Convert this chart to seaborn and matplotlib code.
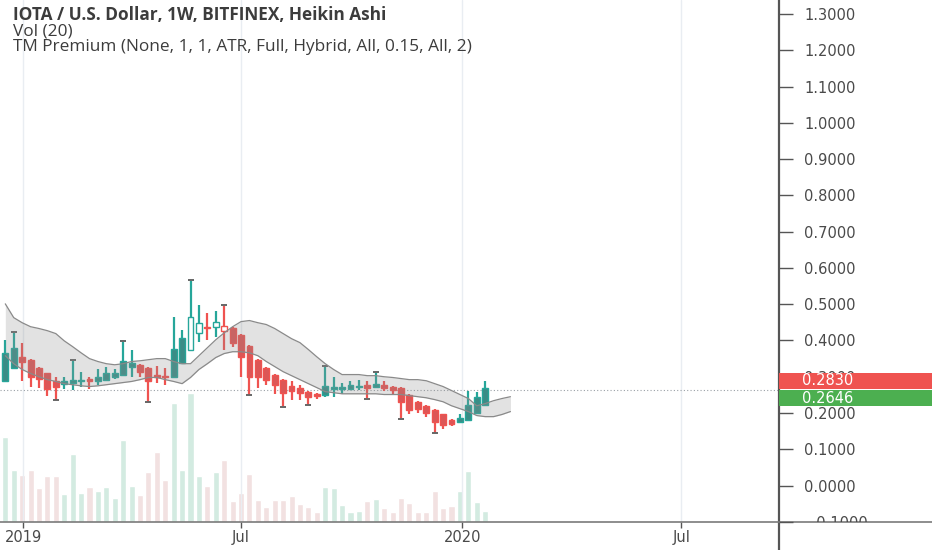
import numpy as np
import pandas as pd
import matplotlib
matplotlib.use("Agg")
import matplotlib.pyplot as plt
import seaborn as sns
from matplotlib.patches import Rectangle
from matplotlib.lines import Line2D
import matplotlib.transforms as mtrans

# ---------------- data ----------------
first_week = pd.Timestamp("2018-12-17")

ha_open = [0.287, 0.325, 0.355, 0.347, 0.325, 0.309, 0.287, 0.281, 0.284, 0.287,
           0.295, 0.287, 0.292, 0.298, 0.306, 0.328, 0.333, 0.325, 0.306, 0.303,
           0.300, 0.339, 0.375, 0.421, 0.438, 0.438, 0.441, 0.435, 0.416, 0.386,
           0.347, 0.325, 0.306, 0.292, 0.275, 0.270, 0.259, 0.253, 0.251, 0.267,
           0.267, 0.267, 0.273, 0.278, 0.273, 0.278, 0.273, 0.270, 0.251, 0.231,
           0.220, 0.209, 0.196, 0.182, 0.176, 0.182, 0.201, 0.223]
ha_high = [0.402, 0.421, 0.394, 0.350, 0.328, 0.311, 0.298, 0.298, 0.344, 0.314,
           0.300, 0.320, 0.328, 0.320, 0.397, 0.375, 0.335, 0.327, 0.331, 0.325,
           0.466, 0.430, 0.565, 0.499, 0.477, 0.482, 0.496, 0.437, 0.418, 0.388,
           0.349, 0.327, 0.308, 0.294, 0.287, 0.278, 0.261, 0.255, 0.328, 0.298,
           0.284, 0.287, 0.292, 0.287, 0.311, 0.287, 0.275, 0.272, 0.253, 0.233,
           0.222, 0.211, 0.198, 0.184, 0.198, 0.262, 0.259, 0.289]
ha_low = [0.285, 0.323, 0.287, 0.273, 0.270, 0.248, 0.237, 0.267, 0.264, 0.273,
          0.267, 0.278, 0.287, 0.295, 0.303, 0.300, 0.300, 0.231, 0.284, 0.278,
          0.298, 0.337, 0.373, 0.397, 0.402, 0.410, 0.375, 0.383, 0.300, 0.251,
          0.270, 0.278, 0.253, 0.218, 0.237, 0.237, 0.223, 0.240, 0.245, 0.245,
          0.253, 0.265, 0.264, 0.242, 0.271, 0.262, 0.253, 0.185, 0.196, 0.201,
          0.190, 0.146, 0.157, 0.163, 0.174, 0.180, 0.199, 0.221]
ha_close = [0.366, 0.380, 0.342, 0.300, 0.295, 0.267, 0.273, 0.287, 0.292, 0.292,
            0.289, 0.300, 0.309, 0.311, 0.344, 0.339, 0.314, 0.287, 0.300, 0.298,
            0.377, 0.408, 0.466, 0.449, 0.435, 0.452, 0.427, 0.394, 0.355, 0.300,
            0.300, 0.292, 0.278, 0.256, 0.262, 0.256, 0.245, 0.248, 0.275, 0.273,
            0.273, 0.278, 0.275, 0.270, 0.281, 0.270, 0.264, 0.229, 0.209, 0.212,
            0.201, 0.176, 0.168, 0.171, 0.187, 0.223, 0.245, 0.270]
volume = [8.5, 5.2, 4.7, 5.2, 3.4, 4.6, 4.6, 2.8, 6.8, 2.9,
          3.5, 3.1, 3.5, 2.4, 8.2, 3.6, 2.7, 5.0, 7.0, 4.2,
          11.9, 5.2, 12.9, 4.6, 3.6, 5.0, 6.2, 2.1, 2.9, 4.8,
          2.2, 1.5, 2.2, 2.2, 2.6, 1.8, 1.5, 1.0, 3.5, 3.4,
          1.7, 1.0, 1.1, 2.1, 2.3, 1.4, 1.0, 2.4, 1.9, 1.0,
          1.0, 3.1, 1.4, 1.6, 3.1, 5.1, 2.0, 1.1]
band_upper = [0.501, 0.463, 0.449, 0.438, 0.433, 0.427, 0.419, 0.399, 0.383, 0.366,
              0.350, 0.342, 0.336, 0.333, 0.336, 0.342, 0.344, 0.347, 0.350, 0.350,
              0.342, 0.336, 0.336, 0.358, 0.380, 0.402, 0.421, 0.438, 0.452, 0.455,
              0.449, 0.444, 0.433, 0.419, 0.405, 0.394, 0.375, 0.355, 0.336, 0.320,
              0.306, 0.306, 0.306, 0.303, 0.303, 0.300, 0.298, 0.295, 0.292, 0.292,
              0.289, 0.281, 0.273, 0.262, 0.251, 0.240, 0.220, 0.226, 0.234, 0.240,
              0.245]
band_lower = [0.358, 0.336, 0.320, 0.309, 0.300, 0.292, 0.287, 0.281, 0.278, 0.275,
              0.273, 0.275, 0.278, 0.281, 0.284, 0.287, 0.292, 0.298, 0.298, 0.292,
              0.287, 0.281, 0.298, 0.320, 0.336, 0.353, 0.364, 0.369, 0.369, 0.366,
              0.358, 0.342, 0.328, 0.314, 0.303, 0.292, 0.281, 0.270, 0.259, 0.256,
              0.253, 0.253, 0.253, 0.253, 0.253, 0.251, 0.251, 0.251, 0.248, 0.245,
              0.242, 0.237, 0.231, 0.220, 0.212, 0.204, 0.193, 0.190, 0.190, 0.196,
              0.204]
hollow_bars = [22, 23, 25, 26]
high_marks = [1, 8, 14, 22, 26, 38, 44]
low_marks = [6, 17, 29, 33, 36, 43, 47, 51]

time_ticks = ["2019-01-01", "2019-07-01", "2020-01-01", "2020-07-01"]
time_labels = ["2019", "Jul", "2020", "Jul"]
price_ticks = [-0.1, 0.0, 0.1, 0.2, 0.3, 0.4, 0.5, 0.6, 0.7, 0.8, 0.9, 1.0, 1.1, 1.2, 1.3]
last_price = 0.2830
prev_close = 0.2646

title_lines = ["IOTA / U.S. Dollar, 1W, BITFINEX, Heikin Ashi",
               "Vol (20)",
               "TM Premium (None, 1, 1, ATR, Full, Hybrid, All, 0.15, All, 2)"]

# ---------------- styling ----------------
UP = "#26a69a"
DOWN = "#ef5350"
UP_BODY = "#3a8c86"
DOWN_BODY = "#dc5656"
TXT = "#4a4a4a"

sns.set_theme(style="white")
plt.rcParams["font.family"] = ["DejaVu Sans"]

W, H = 932, 550
fig = plt.figure(figsize=(W / 100, H / 100), dpi=100)
fig.patch.set_facecolor("white")
rect = [0, 28 / H, 779 / W, 522 / H]

xlim = (-0.63, 91.9)
ylim = (-0.1005, 1.3388)

# volume axes (behind)
axv = fig.add_axes(rect)
axv.set_zorder(0)
o = np.array(ha_open); hi = np.array(ha_high); lo = np.array(ha_low); c = np.array(ha_close)
idx = np.arange(len(o))
direction = np.where(c >= o, "up", "down")
vol_df = pd.DataFrame({"bar": idx, "volume": volume, "dir": direction})
sns.barplot(data=vol_df, x="bar", y="volume", hue="dir", native_scale=True,
            palette={"up": "#d3ebe1", "down": "#f2e1e1"}, saturation=1,
            width=0.72, dodge=False, legend=False, ax=axv)
axv.set_xlim(*xlim)
axv.set_ylim(0, 52.2)
axv.axis("off")

# price axes
ax = fig.add_axes(rect)
ax.set_zorder(2)
ax.patch.set_alpha(0)

# vertical grid at time ticks
tick_pos = [(pd.Timestamp(d) - first_week).days / 7 for d in time_ticks]
for tp in tick_pos:
    ax.axvline(tp, color="#e9edf2", lw=1.0, zorder=0.5)

# wicks
up = c >= o
ax.vlines(idx[up], lo[up], hi[up], color=UP, lw=1.6, zorder=2)
ax.vlines(idx[~up], lo[~up], hi[~up], color=DOWN, lw=1.6, zorder=2)
# bodies
face = [("white" if i in hollow_bars else (UP_BODY if up[i] else DOWN_BODY)) for i in idx]
edge = [UP if up[i] else DOWN for i in idx]
body_h = np.maximum(np.abs(c - o), 0.002)
ax.bar(idx, body_h, bottom=np.minimum(o, c), width=0.7, color=face,
       edgecolor=edge, linewidth=1.0, zorder=3)

# markers
ax.scatter(high_marks, hi[high_marks] + 0.002, marker="_", s=22, color="#666666", lw=1.4, zorder=4)
ax.scatter(low_marks, lo[low_marks] - 0.002, marker="_", s=22, color="#666666", lw=1.4, zorder=4)

# band
bidx = np.arange(len(band_upper))
ax.fill_between(bidx, band_lower, band_upper, color="#8f8f8f", alpha=0.26, lw=0, zorder=5)
sns.lineplot(x=bidx, y=band_upper, color="#8a8a8a", lw=0.9, ax=ax, zorder=6)
sns.lineplot(x=bidx, y=band_lower, color="#8a8a8a", lw=0.9, ax=ax, zorder=6)

# last price dotted line
ax.axhline(prev_close, color="#9aa0a6", lw=0.8, ls=(0, (1, 2)), zorder=1)

ax.set_xlim(*xlim)
ax.set_ylim(*ylim)
ax.set_xlabel("")
ax.set_ylabel("")

for s in ["top", "left"]:
    ax.spines[s].set_visible(False)
ax.spines["right"].set_color("#555555")
ax.spines["right"].set_linewidth(1.6)
ax.spines["bottom"].set_color("#7a7a7a")
ax.spines["bottom"].set_linewidth(1.2)

ax.set_xticks(tick_pos)
ax.set_xticklabels(time_labels)
ax.tick_params(axis="x", bottom=True, length=4, width=1, color="#555555",
               labelsize=10.5, labelcolor=TXT, pad=2)

ax.yaxis.tick_right()
ax.set_yticks(price_ticks)
ax.set_yticklabels([f"{v:.4f}".replace("-", "\u2212") for v in price_ticks])
ax.tick_params(axis="y", right=True, length=10, width=1, color="#555555",
               labelsize=10.5, labelcolor=TXT, pad=8)

btr = mtrans.blended_transform_factory(ax.transAxes, ax.transData)
box_specs = [(0.267, 0.311, DOWN, last_price), (0.218, 0.264, "#4caf50", prev_close)]

# clip tick labels: nothing below the time axis, nothing inside the price boxes
bottom_clip = mtrans.TransformedBbox(mtrans.Bbox([[0, 28 / H], [1, 1]]), fig.transFigure)
for val, t in zip(price_ticks, ax.yaxis.get_major_ticks()):
    t.label2.set_clip_on(True)
    if abs(val - 0.3) < 1e-9:
        clip = mtrans.TransformedBbox(mtrans.Bbox([[0, box_specs[0][1]], [2, 2]]), btr)
        t.label2.set_clip_box(clip)
    else:
        t.label2.set_clip_box(bottom_clip)

# extend spines beyond plot
fig.add_artist(Line2D([779 / W, 1], [28 / H, 28 / H], color="#7a7a7a", lw=1.2))
fig.add_artist(Line2D([779 / W, 779 / W], [0, 28 / H], color="#555555", lw=1.6))

# price label boxes
box_w = (W - 779) / 779
for y0, y1, col, val in box_specs:
    ax.add_patch(Rectangle((1.0, y0), box_w, y1 - y0, transform=btr, facecolor=col,
                           edgecolor="none", clip_on=False, zorder=10))
    ax.text(802 / 779, (y0 + y1) / 2, f"{val:.4f}", transform=btr, color="white",
            fontsize=10.5, va="center", ha="left", zorder=11, clip_on=False)

# header texts
ys = [15, 31, 47]
for k, (t, yy) in enumerate(zip(title_lines, ys)):
    fig.text(13 / W, 1 - yy / H, t, ha="left", va="center", fontsize=12.4,
             family=["Open Sans", "DejaVu Sans"], color="#3c3c3c",
             fontweight="bold" if k == 0 else "normal")

fig.savefig("out.png", dpi=100, facecolor="white")
